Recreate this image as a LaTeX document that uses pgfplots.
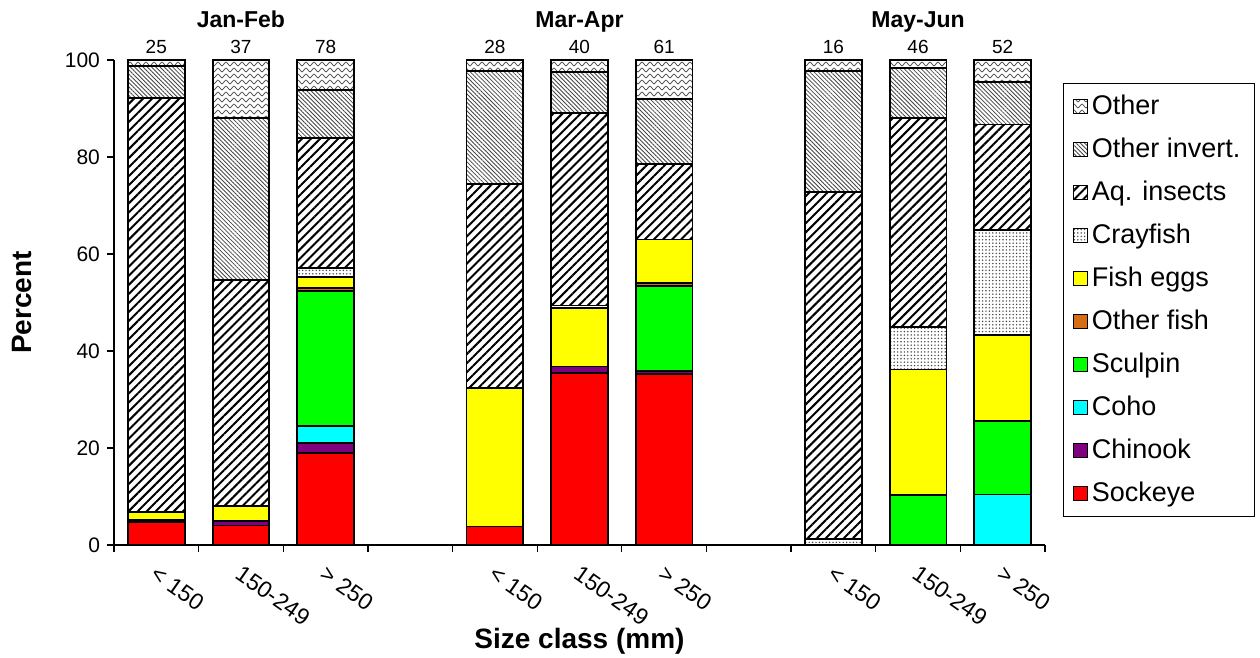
\documentclass[border=0pt]{standalone}
\usepackage{fontspec}
\setmainfont{Liberation Sans}
\usepackage{pgfplots}
\pgfplotsset{compat=1.18}
\usepackage{pgfplotstable}
\usetikzlibrary{patterns.meta}

\definecolor{sockeye}{RGB}{255,0,0}
\definecolor{chinook}{RGB}{128,0,128}
\definecolor{coho}{RGB}{0,255,255}
\definecolor{sculpin}{RGB}{0,255,0}
\definecolor{otherfish}{RGB}{214,108,20}
\definecolor{eggs}{RGB}{255,255,0}
\definecolor{patgray}{RGB}{70,70,70}

% wavy lines for "Other"
\tikzdeclarepattern{
  name=wavy, type=uncolored,
  bottom left={(-0.2pt,-1.6pt)}, top right={(4.2pt,1.6pt)},
  tile size={(4pt,3pt)},
  code={\draw[line width=0.35pt] (0pt,0pt) .. controls (1pt,1.3pt) and (1pt,1.3pt) .. (2pt,0pt)
        .. controls (3pt,-1.3pt) and (3pt,-1.3pt) .. (4pt,0pt);}
}

% percent of diet by prey group; x = slot (3 and 7 are gaps)
\pgfplotstableread{
x  sock chin coho scul ofish eggs cray aq   oinv other
0  4.7  0.5  0    0    0     1.6  0    85.4 6.6  1.2
1  4.0  1.0  0    0    0     3.0  0    46.6 33.4 12.0
2  19.0 2.0  3.5  27.9 0.6   2.3  1.8  26.8 9.9  6.2
4  3.8  0    0    0    0     28.5 0    42.1 23.4 2.2
5  35.5 1.3  0    0    0     12.0 0.6  39.6 8.6  2.4
6  35.3 0.6  0    17.5 0.6   9.0  0    15.6 13.3 8.1
8  0    0    0    0    0     0    1.2  71.5 25.0 2.3
9  0    0    0    10.3 0     25.9 8.7  43.1 10.3 1.7
10 0    0    10.4 15.2 0     17.7 21.6 21.8 8.8  4.5
}\diet

\begin{document}
\begin{tikzpicture}
\begin{axis}[
    scale only axis,
    width=465.5pt, height=242.5pt,
    ybar stacked, bar width=0.67,
    xmin=-0.5, xmax=10.5, ymin=0, ymax=100,
    axis x line*=bottom, axis y line*=left,
    axis line style={line width=0.6pt},
    tick align=outside, major tick length=3.5pt,
    tick style={black, line width=0.6pt},
    ytick={0,20,...,100},
    xtick={-0.5,0.5,...,10.5}, xticklabels={},
    extra x ticks={0,1,2,4,5,6,8,9,10},
    extra x tick labels={< 150,150-249,> 250,< 150,150-249,> 250,< 150,150-249,> 250},
    extra x tick style={major tick length=0pt},
    xticklabel style={rotate=-35, anchor=north west, font=\fontsize{11.5}{13}\selectfont, yshift=-4pt, xshift=3pt},
    yticklabel style={font=\fontsize{10.5}{12}\selectfont},
    /pgf/number format/assume math mode=true,
    ylabel={Percent}, xlabel={Size class (mm)},
    ylabel style={at={(axis description cs:0,0.5)}, anchor=center, yshift=46pt,
        font=\bfseries\fontsize{14}{16}\selectfont},
    xlabel style={at={(axis description cs:0.5,0)}, anchor=center, yshift=-48pt,
        font=\bfseries\fontsize{14}{16}\selectfont},
    every axis plot/.append style={draw=black, line width=0.9pt},
    clip=false,
    reverse legend,
    legend cell align=left,
    legend image code/.code={\draw[#1, line width=0.5pt] (1.5pt,-3.4pt) rectangle (8.3pt,3.4pt);},
    legend style={at={(1.019,0.953)}, anchor=north west, draw=black, line width=0.5pt,
        font=\fontsize{13.5}{15}\selectfont, row sep=6.2pt, inner xsep=5pt, inner ysep=4pt},
]
\addplot[fill=sockeye] table[x=x,y=sock]{\diet};
\addlegendentry{Sockeye}
\addplot[fill=chinook] table[x=x,y=chin]{\diet};
\addlegendentry{Chinook}
\addplot[fill=coho] table[x=x,y=coho]{\diet};
\addlegendentry{Coho}
\addplot[fill=sculpin] table[x=x,y=scul]{\diet};
\addlegendentry{Sculpin}
\addplot[fill=otherfish] table[x=x,y=ofish]{\diet};
\addlegendentry{Other fish}
\addplot[fill=eggs] table[x=x,y=eggs]{\diet};
\addlegendentry{Fish eggs}
\addplot[fill=white, postaction={pattern={Dots[distance=1.7pt, radius=0.4pt]}, pattern color=patgray}] table[x=x,y=cray]{\diet};
\addlegendentry{Crayfish}
\addplot[fill=white, postaction={pattern={Lines[angle=45, distance=3.2pt, line width=1pt]}, pattern color=black}] table[x=x,y=aq]{\diet};
\addlegendentry{Aq. insects}
\addplot[fill=white, postaction={pattern={Lines[angle=-45, distance=1.5pt, line width=0.4pt]}, pattern color=patgray}] table[x=x,y=oinv]{\diet};
\addlegendentry{Other invert.}
\addplot[fill=white, postaction={pattern=wavy, pattern color=patgray}] table[x=x,y=other]{\diet};
\addlegendentry{Other}

% sample sizes above bars
\foreach \xx/\nn in {0/25,1/37,2/78,4/28,5/40,6/61,8/16,9/46,10/52}{
  \edef\tmp{\noexpand\node[anchor=south, inner sep=0pt, yshift=3pt, font=\noexpand\fontsize{9.5}{11}\noexpand\selectfont] at (axis cs:\xx,100) {\nn};}
  \tmp
}
\node[anchor=base, yshift=16pt, font=\bfseries\fontsize{11.5}{13}\selectfont] at (axis cs:1,100) {Jan-Feb};
\node[anchor=base, yshift=16pt, font=\bfseries\fontsize{11.5}{13}\selectfont] at (axis cs:5,100) {Mar-Apr};
\node[anchor=base, yshift=16pt, font=\bfseries\fontsize{11.5}{13}\selectfont] at (axis cs:9,100) {May-Jun};
\end{axis}
\pgfresetboundingbox
\path[use as bounding box] ([shift={(-57pt,-56.5pt)}]current axis.south west) rectangle ([shift={(107.5pt,30pt)}]current axis.north east);
\end{tikzpicture}
\end{document}
